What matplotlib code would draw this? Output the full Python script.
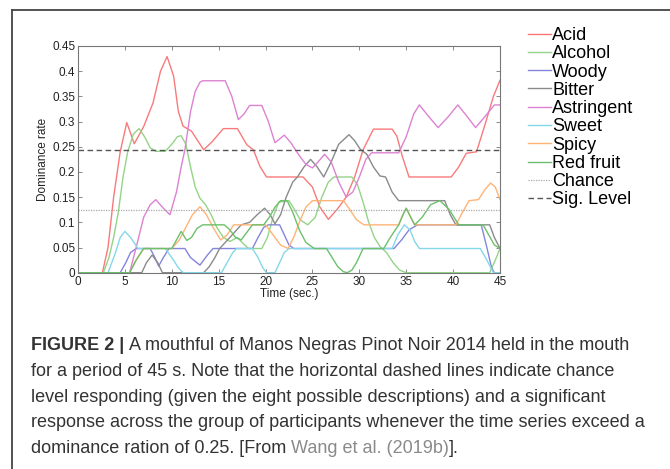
import matplotlib
matplotlib.use("Agg")
import matplotlib.pyplot as plt
from matplotlib.lines import Line2D

plt.rcParams['font.family'] = ['Liberation Sans', 'DejaVu Sans']

# values (time in s, dominance rate)
acid_t = [0, 2.6, 3.2, 3.8, 4.5, 5.2, 6.0, 7.0, 8.0, 8.8, 9.5, 10.2, 10.7, 11.2, 12.1, 13.4, 14.3, 15.5, 17.0,
          18.0, 18.7, 19.4, 20.1, 24.0, 25.0, 25.8, 26.7, 27.6, 28.6, 29.5, 30.4, 31.5, 33.5, 34.0, 34.6, 35.3,
          39.8, 40.6, 41.4, 42.5, 43.5, 44.3, 45.0]
acid_v = [0, 0, 0.05, 0.15, 0.24, 0.298, 0.256, 0.29, 0.337, 0.40, 0.429, 0.39, 0.32, 0.291, 0.281, 0.244, 0.26,
          0.286, 0.286, 0.254, 0.244, 0.211, 0.19, 0.19, 0.17, 0.13, 0.106, 0.125, 0.15, 0.19, 0.244, 0.285, 0.285,
          0.271, 0.23, 0.19, 0.19, 0.21, 0.237, 0.24, 0.30, 0.35, 0.382]

alcohol_t = [0, 2.7, 3.3, 3.8, 4.3, 4.8, 5.3, 5.9, 6.5, 7.1, 7.7, 8.3, 9.3, 10.0, 10.6, 11.0, 11.5, 12.0, 12.5,
             13.0, 13.6, 14.2, 14.8, 15.5, 16.2, 17.0, 17.6, 18.2, 19.6, 20.2, 20.8, 21.4, 22.5, 23.1, 23.7, 24.5,
             25.3, 26.0, 26.7, 27.3, 29.2, 29.8, 30.4, 31.0, 31.6, 32.2, 32.9, 33.6, 34.3, 35.0, 43.9, 44.5, 45.0]
alcohol_v = [0, 0, 0.03, 0.07, 0.12, 0.19, 0.24, 0.275, 0.286, 0.27, 0.248, 0.241, 0.241, 0.255, 0.27, 0.272,
             0.255, 0.21, 0.17, 0.148, 0.135, 0.115, 0.09, 0.07, 0.062, 0.07, 0.058, 0.048, 0.048, 0.07, 0.11, 0.14,
             0.143, 0.125, 0.105, 0.095, 0.11, 0.15, 0.18, 0.19, 0.19, 0.175, 0.14, 0.1, 0.07, 0.052, 0.04, 0.02,
             0.005, 0, 0, 0.025, 0.048]

woody_t = [0, 4.5, 5.1, 5.6, 6.2, 7.7, 8.2, 8.6, 9.1, 9.7, 11.4, 12.0, 13.0, 13.8, 14.4, 18.6, 19.2, 19.8, 20.3,
           21.5, 22.0, 22.5, 23.0, 33.7, 34.5, 35.3, 36.2, 36.8, 43.0, 43.6, 44.1, 44.4, 45.0]
woody_v = [0, 0, 0.02, 0.04, 0.048, 0.048, 0.03, 0.013, 0.03, 0.048, 0.048, 0.03, 0.015, 0.035, 0.048, 0.048,
           0.07, 0.09, 0.095, 0.095, 0.075, 0.055, 0.048, 0.048, 0.065, 0.085, 0.095, 0.095, 0.095, 0.05, 0.01, 0, 0]

bitter_t = [0, 6.8, 7.3, 7.9, 8.5, 9.0, 13.4, 14.0, 14.6, 15.1, 16.2, 17.4, 18.3, 19.1, 19.9, 20.5, 21.0, 21.6,
            22.2, 22.9, 23.4, 24.1, 24.8, 25.5, 26.2, 27.0, 27.8, 28.9, 29.5, 30.1, 30.8, 31.5, 32.2, 32.8, 33.5,
            34.2, 39.1, 39.7, 40.3, 43.9, 44.4, 45.0]
bitter_v = [0, 0, 0.02, 0.035, 0.02, 0, 0, 0.012, 0.03, 0.048, 0.07, 0.095, 0.1, 0.115, 0.128, 0.115, 0.097,
            0.115, 0.15, 0.18, 0.19, 0.21, 0.225, 0.21, 0.19, 0.22, 0.255, 0.274, 0.262, 0.245, 0.235, 0.21, 0.192,
            0.19, 0.16, 0.143, 0.143, 0.115, 0.095, 0.095, 0.07, 0.048]

astringent_t = [0, 5.5, 6.2, 7.0, 7.7, 8.3, 9.0, 9.8, 10.5, 11.0, 11.4, 12.0, 12.5, 13.0, 13.3, 15.7, 16.4, 17.1,
                17.7, 18.3, 19.6, 20.3, 21.0, 22.0, 22.7, 23.5, 24.3, 25.0, 25.6, 26.3, 27.0, 27.8, 28.6, 29.3,
                30.0, 30.7, 31.3, 34.2, 35.0, 35.8, 36.4, 37.4, 38.4, 39.5, 40.5, 41.5, 42.4, 43.4, 44.4, 45.0]
astringent_v = [0, 0, 0.05, 0.11, 0.135, 0.145, 0.13, 0.115, 0.16, 0.21, 0.244, 0.32, 0.36, 0.378, 0.381, 0.381,
                0.35, 0.304, 0.315, 0.332, 0.332, 0.30, 0.258, 0.273, 0.258, 0.235, 0.215, 0.208, 0.22, 0.235,
                0.22, 0.18, 0.15, 0.16, 0.19, 0.225, 0.238, 0.238, 0.27, 0.315, 0.333, 0.31, 0.288, 0.31, 0.333,
                0.31, 0.288, 0.31, 0.333, 0.333]

sweet_t = [0, 3.2, 4.0, 4.5, 5.0, 5.6, 6.4, 9.3, 10.0, 10.7, 11.2, 15.3, 15.9, 16.5, 16.9, 18.6, 19.2, 19.7, 20.1,
           21.0, 21.5, 22.0, 22.5, 33.5, 34.1, 34.8, 35.4, 35.9, 36.4, 42.9, 43.6, 44.3, 45.0]
sweet_v = [0, 0, 0.04, 0.07, 0.082, 0.07, 0.048, 0.048, 0.03, 0.01, 0, 0, 0.02, 0.04, 0.048, 0.048, 0.03, 0.01,
           0, 0, 0.02, 0.04, 0.048, 0.048, 0.075, 0.095, 0.085, 0.062, 0.048, 0.048, 0.025, 0, 0]

spicy_t = [0, 5.5, 6.2, 7.0, 10.0, 10.8, 11.5, 12.2, 13.0, 13.7, 14.4, 15.2, 15.9, 16.6, 20.0, 20.8, 21.6, 22.4,
           23.0, 23.6, 24.3, 25.0, 28.3, 29.0, 29.7, 30.5, 34.2, 34.6, 35.0, 35.4, 35.9, 40.3, 41.0, 41.7, 42.7,
           43.4, 44.0, 44.5, 45.0]
spicy_v = [0, 0, 0.025, 0.048, 0.048, 0.065, 0.09, 0.115, 0.131, 0.115, 0.09, 0.065, 0.075, 0.095, 0.095, 0.075,
           0.055, 0.048, 0.07, 0.1, 0.13, 0.143, 0.143, 0.125, 0.105, 0.095, 0.095, 0.113, 0.128, 0.113, 0.095,
           0.095, 0.12, 0.143, 0.145, 0.165, 0.178, 0.17, 0.145]

redfruit_t = [0, 5.5, 6.2, 7.0, 10.0, 10.5, 11.0, 11.6, 12.1, 12.7, 13.3, 15.6, 16.2, 16.8, 17.4, 18.0, 18.6, 19.8,
              20.4, 21.0, 21.6, 22.3, 22.9, 23.6, 24.3, 25.2, 26.5, 27.1, 27.7, 28.3, 28.7, 29.2, 29.7, 30.4, 32.6,
              33.3, 34.2, 34.6, 35.0, 35.4, 35.9, 36.7, 37.6, 38.6, 39.6, 40.6, 43.2, 43.8, 44.4, 45.0]
redfruit_v = [0, 0, 0.025, 0.048, 0.048, 0.065, 0.082, 0.064, 0.07, 0.088, 0.095, 0.095, 0.085, 0.07, 0.065, 0.08,
              0.095, 0.095, 0.11, 0.13, 0.143, 0.143, 0.12, 0.085, 0.06, 0.048, 0.048, 0.03, 0.012, 0.002, 0, 0.005,
              0.02, 0.048, 0.048, 0.07, 0.095, 0.113, 0.128, 0.113, 0.095, 0.11, 0.135, 0.143, 0.125, 0.095, 0.095,
              0.075, 0.055, 0.048]

chance_level = 0.125
sig_level = 0.244

x_ticks = [0, 5, 10, 15, 20, 25, 30, 35, 40, 45]
y_ticks = [0, 0.05, 0.1, 0.15, 0.2, 0.25, 0.3, 0.35, 0.4, 0.45]
y_tick_labels = ['0', '0.05', '0.1', '0.15', '0.2', '0.25', '0.3', '0.35', '0.4', '0.45']

series = [
    ('Acid', acid_t, acid_v, '#f97a7a'),
    ('Alcohol', alcohol_t, alcohol_v, '#94d487'),
    ('Woody', woody_t, woody_v, '#8585dd'),
    ('Bitter', bitter_t, bitter_v, '#8a8a8a'),
    ('Astringent', astringent_t, astringent_v, '#dd82d2'),
    ('Sweet', sweet_t, sweet_v, '#84d8ea'),
    ('Spicy', spicy_t, spicy_v, '#ffb476'),
    ('Red fruit', redfruit_t, redfruit_v, '#6cc06c'),
]

W, H = 670, 469
fig = plt.figure(figsize=(W / 100, H / 100), dpi=100)
ax = fig.add_axes([78 / W, 1 - 272.7 / H, 422 / W, 226.7 / H])

for name, t, v, c in series:
    ax.plot(t, v, color=c, lw=1.0, label=name)
ax.axhline(chance_level, color='#aaaaaa', lw=0.9, ls=(0, (1, 1)), label='Chance')
ax.axhline(sig_level, color='#555555', lw=1.0, ls=(0, (4, 2.5)), label='Sig. Level')

ax.set_xlim(0, 45)
ax.set_ylim(0, 0.45)
ax.set_xticks(x_ticks)
ax.set_xticklabels([str(x) for x in x_ticks])
ax.set_yticks(y_ticks)
ax.set_yticklabels(y_tick_labels)
ax.tick_params(direction='in', top=True, right=True, length=3, width=0.6, color='#777777',
               labelsize=8.5, labelcolor='#222222')
ax.tick_params(axis='x', pad=2.5)
ax.tick_params(axis='y', pad=2)
for s in ax.spines.values():
    s.set_color('#777777')
    s.set_linewidth(0.8)
ax.set_xlabel('Time (sec.)', fontsize=8.5, labelpad=0, color='#222222')
ax.set_ylabel('Dominance rate', fontsize=8.5, labelpad=2, color='#222222')

leg = fig.legend(loc='upper left', bbox_to_anchor=(528 / W, 1 - 27 / H), frameon=False, fontsize=13,
                 handlelength=1.25, handletextpad=0.1, labelspacing=0.07, borderpad=0, borderaxespad=0)

# panel border (open to the right and bottom)
fig.add_artist(Line2D([12 / W, 1], [1 - 10 / H, 1 - 10 / H], color='#444444', lw=1.3))
fig.add_artist(Line2D([12 / W, 12 / W], [0, 1 - 10 / H], color='#444444', lw=1.3))

# caption
dark = '#333333'
lines = [
    [('FIGURE 2 | ', 'bold', dark), ('A mouthful of Manos Negras Pinot Noir 2014 held in the mouth', 'normal', dark)],
    [('for a period of 45 s. Note that the horizontal dashed lines indicate chance', 'normal', dark)],
    [('level responding (given the eight possible descriptions) and a significant', 'normal', dark)],
    [('response across the group of participants whenever the time series exceed a', 'normal', dark)],
    [('dominance ration of 0.25. [From ', 'normal', dark), ('Wang et al. (2019b)', 'normal', '#8a8a8a'),
     ('].', 'normal', dark)],
]
line_y = [345, 371, 397, 422, 448]
renderer = fig.canvas.get_renderer()
for parts, yp in zip(lines, line_y):
    xp = 31
    for txt, wt, col in parts:
        tx = fig.text(xp / W, 1 - yp / H, txt, fontsize=13, fontweight=wt, color=col, va='center', ha='left')
        bb = tx.get_window_extent(renderer=renderer)
        xp += bb.width

fig.savefig('out.png', dpi=100)
